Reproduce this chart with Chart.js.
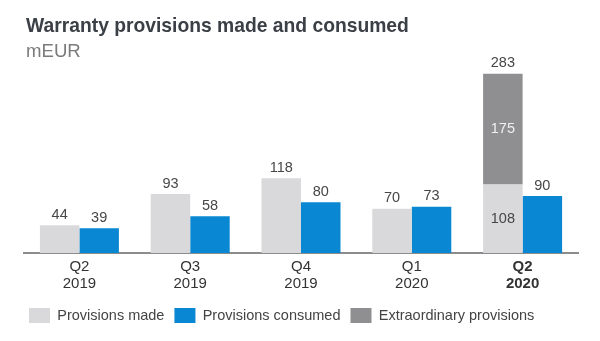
<!DOCTYPE html>
<html>
<head>
<meta charset="utf-8">
<script src="https://cdn.jsdelivr.net/npm/chart.js@4.4.1/dist/chart.umd.min.js"></script>
<style>
  html, body { margin: 0; padding: 0; background: #ffffff; }
  #wrap { width: 600px; height: 341px; }
</style>
</head>
<body>
<div id="wrap"><canvas id="myChart" width="600" height="341"></canvas></div>
<script>
// Datos por trimestre (mEUR)
var quarters = [['Q2', '2019'], ['Q3', '2019'], ['Q4', '2019'], ['Q1', '2020'], ['Q2', '2020']];
var provisionsMade = [44, 93, 118, 70, 108];
var extraordinary = [0, 0, 0, 0, 175];
var provisionsConsumed = [39, 58, 80, 73, 90];

var textFont = "'Liberation Sans', Arial, sans-serif";

// Título y unidad arriba a la izquierda
var header = {
    id: 'header',
    afterDraw: function(chart) {
        var ctx = chart.ctx;
        ctx.save();
        ctx.textAlign = 'left';
        ctx.textBaseline = 'alphabetic';
        ctx.fillStyle = '#3b4047';
        ctx.font = 'bold 19.3px ' + textFont;
        ctx.fillText('Warranty provisions made and consumed', 26, 32);
        ctx.fillStyle = '#7b7b7b';
        ctx.font = '18.6px ' + textFont;
        ctx.fillText('mEUR', 26, 57);
        ctx.restore();
    }
};

// Etiquetas de valor encima / dentro de las barras
var valueLabels = {
    id: 'valueLabels',
    afterDatasetsDraw: function(chart) {
        var ctx = chart.ctx;
        ctx.save();
        ctx.font = '14.5px ' + textFont;
        ctx.textAlign = 'center';
        ctx.textBaseline = 'middle';
        var made = chart.getDatasetMeta(0).data;
        var extra = chart.getDatasetMeta(1).data;
        var used = chart.getDatasetMeta(2).data;
        for (var i = 0; i < quarters.length; i++) {
            ctx.fillStyle = '#474747';
            if (extraordinary[i] > 0) {
                // barra apilada: valores dentro y total arriba
                ctx.fillText(provisionsMade[i], made[i].x, (made[i].y + made[i].base) / 2);
                ctx.fillText(provisionsMade[i] + extraordinary[i], extra[i].x, extra[i].y - 11);
                ctx.fillStyle = '#f0f0f0';
                ctx.fillText(extraordinary[i], extra[i].x, (extra[i].y + extra[i].base) / 2);
            } else {
                ctx.fillText(provisionsMade[i], made[i].x, made[i].y - 10.5);
            }
            ctx.fillStyle = '#474747';
            ctx.fillText(provisionsConsumed[i], used[i].x, used[i].y - 10.5);
        }
        ctx.restore();
    }
};

var ctx = document.getElementById('myChart').getContext('2d');
var myChart = new Chart(ctx, {
    type: 'bar',
    data: {
        labels: quarters,
        datasets: [{
            label: 'Provisions made',
            data: provisionsMade,
            backgroundColor: '#d9d9db',
            stack: 'made'
        }, {
            label: 'Extraordinary provisions',
            data: extraordinary,
            backgroundColor: '#8f8f91',
            stack: 'made'
        }, {
            label: 'Provisions consumed',
            data: provisionsConsumed,
            backgroundColor: '#0a87d2',
            stack: 'consumed'
        }]
    },
    options: {
        responsive: false,
        animation: false,
        events: [],
        categoryPercentage: 0.713,
        barPercentage: 1,
        layout: {
            padding: { left: 19, right: 22, top: 70, bottom: 8 }
        },
        plugins: {
            title: { display: false },
            legend: {
                position: 'bottom',
                align: 'start',
                labels: {
                    boxWidth: 21,
                    boxHeight: 15,
                    padding: 10,
                    color: '#444444',
                    font: { family: textFont, size: 14.5 },
                    sort: function(a, b) {
                        var order = [0, 2, 1];
                        return order.indexOf(a.datasetIndex) - order.indexOf(b.datasetIndex);
                    }
                }
            },
            tooltip: { enabled: false }
        },
        scales: {
            x: {
                stacked: true,
                grid: { display: false, drawTicks: false },
                border: { color: '#8c8c8c', width: 2 },
                ticks: {
                    color: '#333333',
                    padding: 6,
                    font: function(c) {
                        return {
                            family: textFont,
                            size: 15,
                            weight: c.index === 4 ? 'bold' : 'normal',
                            lineHeight: 1.1
                        };
                    }
                }
            },
            y: {
                stacked: true,
                min: 0,
                max: 289,
                grid: { display: false, drawTicks: false },
                border: { display: false },
                ticks: { display: false },
                afterFit: function(scale) { scale.width = 5; }
            }
        }
    },
    plugins: [valueLabels, header]
});
</script>
</body>
</html>
